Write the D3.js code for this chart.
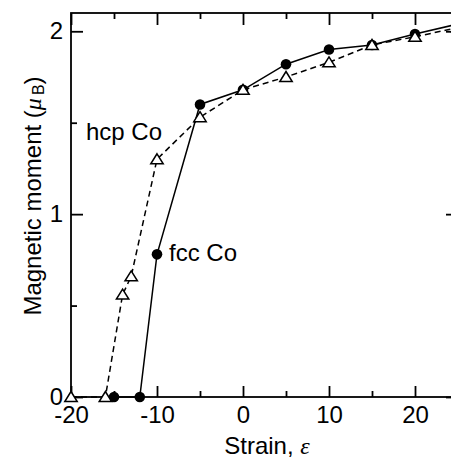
<!DOCTYPE html>
<html>
<head>
<meta charset="utf-8">
<script src="https://cdn.jsdelivr.net/npm/d3@7"></script>
<style>
  html, body { margin: 0; padding: 0; background: #fff; }
  svg { display: block; }
  text { font-family: "Liberation Sans", Arial, sans-serif; fill: #000; }
</style>
</head>
<body>
<svg id="chart" width="451" height="459"></svg>
<script>
// ---- data ----
const strainFcc = [-15, -12, -10, -5, 0, 5, 10, 15, 20, 25];
const momentFcc = [0, 0, 0.78, 1.60, 1.68, 1.82, 1.90, 1.925, 1.985, 2.04];
const strainHcp = [-20, -16, -14, -13, -10, -5, 0, 5, 10, 15, 20, 25];
const momentHcp = [0, 0, 0.56, 0.66, 1.30, 1.53, 1.68, 1.75, 1.83, 1.925, 1.97, 2.02];
const xMajorTicks = [-20, -10, 0, 10, 20];
const xMinorTicks = [-15, -5, 5, 15];
const yMajorTicks = [0, 1, 2];
const yMinorTicks = [0.5, 1.5];
const seriesLabels = ["fcc Co", "hcp Co"];

// ---- layout ----
const svg = d3.select("#chart");
const mLeft = 71, mRight = 458, mTop = 13, mBottom = 397;
const x = d3.scaleLinear().domain([-20, 25]).range([mLeft, mRight]);
const y = d3.scaleLinear().domain([0, 2.1]).range([mBottom, mTop]);
const fs = 24;
const fmt = d => String(d);

function styleAxis(g) {
  g.select(".domain").remove();
  g.selectAll(".tick line").attr("stroke", "#000").attr("stroke-width", 1.8);
  g.selectAll(".tick text").style("font-size", fs + "px")
    .style("font-family", "'Liberation Sans', Arial, sans-serif");
}

// bottom
svg.append("g").attr("transform", `translate(0,${mBottom})`)
  .call(d3.axisBottom(x).tickValues(xMajorTicks).tickFormat(fmt).tickSizeInner(-11).tickSizeOuter(0).tickPadding(9))
  .call(styleAxis);
svg.append("g").attr("transform", `translate(0,${mBottom})`)
  .call(d3.axisBottom(x).tickValues(xMinorTicks).tickFormat("").tickSizeInner(-6).tickSizeOuter(0))
  .call(styleAxis);
// top
svg.append("g").attr("transform", `translate(0,${mTop})`)
  .call(d3.axisTop(x).tickValues(xMajorTicks).tickFormat("").tickSizeInner(-12).tickSizeOuter(0))
  .call(styleAxis);
svg.append("g").attr("transform", `translate(0,${mTop})`)
  .call(d3.axisTop(x).tickValues(xMinorTicks).tickFormat("").tickSizeInner(-6).tickSizeOuter(0))
  .call(styleAxis);
// left
svg.append("g").attr("transform", `translate(${mLeft},0)`)
  .call(d3.axisLeft(y).tickValues(yMajorTicks).tickFormat(fmt).tickSizeInner(-12).tickSizeOuter(0).tickPadding(8))
  .call(styleAxis);
svg.append("g").attr("transform", `translate(${mLeft},0)`)
  .call(d3.axisLeft(y).tickValues(yMinorTicks).tickFormat("").tickSizeInner(-6).tickSizeOuter(0))
  .call(styleAxis);
// right
svg.append("g").attr("transform", `translate(${mRight},0)`)
  .call(d3.axisRight(y).tickValues(yMajorTicks).tickFormat("").tickSizeInner(-12).tickSizeOuter(0))
  .call(styleAxis);
svg.append("g").attr("transform", `translate(${mRight},0)`)
  .call(d3.axisRight(y).tickValues(yMinorTicks).tickFormat("").tickSizeInner(-6).tickSizeOuter(0))
  .call(styleAxis);

// frame
svg.append("rect").attr("x", mLeft).attr("y", mTop)
  .attr("width", mRight - mLeft).attr("height", mBottom - mTop)
  .attr("fill", "none").attr("stroke", "#000").attr("stroke-width", 1.8);

// data
const fcc = strainFcc.map((s, i) => ({ s, m: momentFcc[i] }));
const hcp = strainHcp.map((s, i) => ({ s, m: momentHcp[i] }));
const line = d3.line().x(d => x(d.s)).y(d => y(d.m));

svg.append("path").datum(hcp).attr("d", line)
  .attr("fill", "none").attr("stroke", "#000").attr("stroke-width", 1.5)
  .attr("stroke-dasharray", "6,4");
svg.append("path").datum(fcc).attr("d", line)
  .attr("fill", "none").attr("stroke", "#000").attr("stroke-width", 1.5);

svg.selectAll("circle.fcc").data(fcc).enter().append("circle")
  .attr("class", "fcc")
  .attr("cx", d => x(d.s)).attr("cy", d => y(d.m)).attr("r", 5.3)
  .attr("fill", "#000");

const tri = "M0,-5.5L6.2,4.5L-6.2,4.5Z";
svg.selectAll("path.hcp").data(hcp).enter().append("path")
  .attr("class", "hcp")
  .attr("d", tri)
  .attr("transform", d => `translate(${x(d.s)},${y(d.m)})`)
  .attr("fill", "#fff").attr("stroke", "#000").attr("stroke-width", 1.5);

// series labels
svg.append("text").attr("x", 86).attr("y", 140).style("font-size", fs + "px").text(seriesLabels[1]);
svg.append("text").attr("x", 169).attr("y", 261).style("font-size", fs + "px").text(seriesLabels[0]);

// axis titles
const xt = svg.append("text").attr("x", 267).attr("y", 454)
  .attr("text-anchor", "middle").style("font-size", fs + "px");
xt.append("tspan").text("Strain, ");
xt.append("tspan").style("font-family", "'Liberation Serif', serif").style("font-style", "italic").text("ε");

const yt = svg.append("text").attr("transform", "translate(41,196) rotate(-90)")
  .attr("text-anchor", "middle").style("font-size", fs + "px");
yt.append("tspan").text("Magnetic moment (");
yt.append("tspan").style("font-family", "'Liberation Serif', serif").style("font-style", "italic").text("μ");
yt.append("tspan").attr("dx", 3).attr("dy", 3).style("font-size", "16px").text("B");
yt.append("tspan").attr("dy", -3).text(")");
</script>
</body>
</html>
